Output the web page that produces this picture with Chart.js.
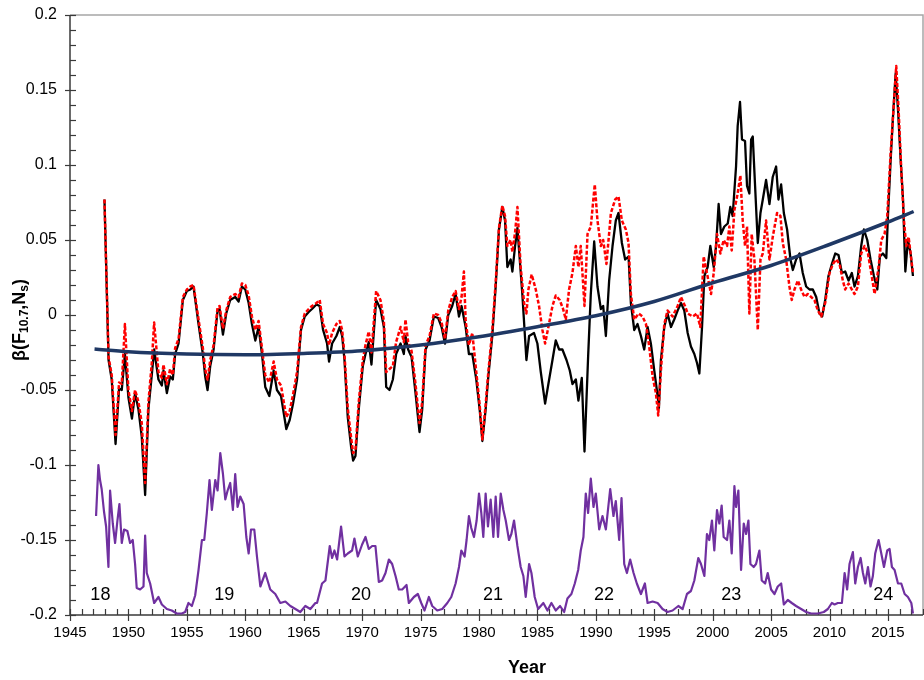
<!DOCTYPE html>
<html>
<head>
<meta charset="utf-8">
<script src="https://cdn.jsdelivr.net/npm/chart.js@4.4.1/dist/chart.umd.min.js"></script>
<style>
    html, body { margin: 0; padding: 0; background: #fff; }
    #wrap { width: 924px; height: 680px; }
</style>
</head>
<body>
<div id="wrap"><canvas id="betaChart" width="924" height="680"></canvas></div>
<script>
// beta(F10.7, Ns) series
const blackYears = [1947.95, 1948.3, 1948.57, 1948.9, 1949.2, 1949.43, 1949.7, 1950.0, 1950.3, 1950.57, 1950.86, 1951.14, 1951.43, 1951.71, 1952.0, 1952.2, 1952.57, 1952.86, 1953.0, 1953.29, 1953.57, 1953.8, 1954.0, 1954.29, 1954.66, 1955.0, 1955.3, 1955.57, 1956.0, 1956.37, 1956.57, 1956.77, 1957.0, 1957.29, 1957.63, 1957.8, 1958.09, 1958.37, 1958.71, 1959.14, 1959.43, 1959.71, 1960.0, 1960.29, 1960.57, 1960.86, 1961.14, 1961.43, 1961.71, 1962.06, 1962.43, 1962.71, 1963.06, 1963.51, 1963.8, 1964.09, 1964.43, 1964.77, 1965.09, 1965.43, 1965.71, 1966.09, 1966.37, 1966.66, 1967.0, 1967.17, 1967.43, 1967.8, 1968.09, 1968.29, 1968.49, 1968.77, 1969.06, 1969.23, 1969.43, 1969.71, 1970.06, 1970.29, 1970.57, 1970.8, 1971.2, 1971.57, 1971.86, 1972.06, 1972.34, 1972.63, 1972.91, 1973.29, 1973.57, 1973.71, 1973.94, 1974.23, 1974.57, 1974.91, 1975.14, 1975.43, 1975.77, 1976.14, 1976.51, 1976.8, 1977.09, 1977.37, 1977.71, 1978.0, 1978.29, 1978.51, 1978.86, 1979.14, 1979.43, 1979.77, 1980.06, 1980.29, 1980.57, 1980.8, 1981.14, 1981.43, 1981.71, 1982.0, 1982.23, 1982.43, 1982.71, 1982.86, 1983.09, 1983.29, 1983.49, 1983.71, 1984.06, 1984.29, 1984.71, 1985.0, 1985.29, 1985.66, 1985.94, 1986.29, 1986.57, 1986.86, 1987.14, 1987.49, 1987.77, 1988.0, 1988.29, 1988.51, 1988.8, 1989.03, 1989.34, 1989.57, 1989.86, 1990.14, 1990.43, 1990.63, 1990.86, 1991.14, 1991.43, 1991.71, 1991.94, 1992.23, 1992.51, 1992.8, 1993.0, 1993.29, 1993.57, 1993.86, 1994.14, 1994.43, 1994.71, 1995.0, 1995.29, 1995.4, 1995.57, 1995.86, 1996.14, 1996.43, 1996.71, 1997.0, 1997.29, 1997.57, 1997.86, 1998.14, 1998.43, 1998.66, 1998.86, 1999.09, 1999.29, 1999.57, 1999.8, 2000.09, 2000.29, 2000.51, 2000.71, 2001.0, 2001.29, 2001.51, 2001.71, 2002.0, 2002.14, 2002.34, 2002.51, 2002.77, 2002.94, 2003.14, 2003.29, 2003.43, 2003.63, 2003.86, 2004.09, 2004.29, 2004.57, 2004.86, 2005.14, 2005.43, 2005.63, 2005.86, 2006.09, 2006.37, 2006.66, 2006.86, 2007.14, 2007.43, 2007.71, 2008.0, 2008.29, 2008.57, 2008.86, 2009.14, 2009.37, 2009.63, 2009.91, 2010.2, 2010.49, 2010.77, 2011.06, 2011.34, 2011.63, 2011.91, 2012.14, 2012.43, 2012.71, 2012.94, 2013.23, 2013.51, 2013.8, 2014.09, 2014.31, 2014.57, 2014.86, 2015.0, 2015.23, 2015.43, 2015.66, 2015.86, 2016.09, 2016.29, 2016.49, 2016.71, 2016.94, 2017.14];
const blackValues = [0.077, -0.030, -0.043, -0.086, -0.049, -0.050, -0.026, -0.055, -0.069, -0.052, -0.063, -0.081, -0.120, -0.063, -0.040, -0.023, -0.043, -0.047, -0.037, -0.052, -0.041, -0.043, -0.026, -0.019, 0.010, 0.016, 0.017, 0.019, -0.006, -0.026, -0.041, -0.050, -0.034, -0.023, 0.003, 0.004, -0.013, 0.001, 0.010, 0.012, 0.009, 0.019, 0.017, 0.008, -0.006, -0.017, -0.008, -0.026, -0.048, -0.054, -0.037, -0.050, -0.054, -0.076, -0.070, -0.059, -0.043, -0.010, -0.001, 0.002, 0.004, 0.007, 0.006, -0.010, -0.019, -0.031, -0.019, -0.014, -0.008, -0.014, -0.030, -0.068, -0.088, -0.097, -0.094, -0.063, -0.034, -0.026, -0.018, -0.033, 0.010, 0.004, -0.008, -0.048, -0.050, -0.043, -0.026, -0.019, -0.026, -0.014, -0.023, -0.028, -0.052, -0.078, -0.063, -0.023, -0.017, -0.001, -0.002, -0.008, -0.019, 0.000, 0.006, 0.014, -0.001, 0.006, -0.008, -0.026, -0.026, -0.043, -0.063, -0.084, -0.063, -0.041, -0.014, 0.019, 0.057, 0.072, 0.063, 0.032, 0.037, 0.029, 0.046, 0.058, 0.037, 0.014, -0.030, -0.014, -0.012, -0.019, -0.038, -0.059, -0.046, -0.030, -0.017, -0.023, -0.023, -0.030, -0.037, -0.046, -0.043, -0.057, -0.042, -0.091, -0.028, 0.014, 0.049, 0.019, 0.004, 0.006, -0.014, 0.023, 0.046, 0.063, 0.068, 0.048, 0.037, 0.039, 0.008, -0.010, -0.006, -0.014, -0.023, -0.008, -0.019, -0.037, -0.054, -0.062, -0.030, -0.008, 0.001, -0.008, -0.003, 0.003, 0.008, 0.003, -0.012, -0.021, -0.026, -0.032, -0.039, -0.008, 0.026, 0.032, 0.046, 0.032, 0.046, 0.074, 0.054, 0.059, 0.061, 0.072, 0.066, 0.099, 0.126, 0.142, 0.117, 0.116, 0.086, 0.081, 0.117, 0.119, 0.086, 0.048, 0.068, 0.077, 0.090, 0.074, 0.092, 0.099, 0.077, 0.087, 0.068, 0.057, 0.037, 0.030, 0.037, 0.041, 0.028, 0.019, 0.017, 0.017, 0.012, 0.001, -0.001, 0.010, 0.026, 0.034, 0.041, 0.040, 0.028, 0.029, 0.023, 0.028, 0.019, 0.026, 0.046, 0.057, 0.050, 0.037, 0.026, 0.017, 0.039, 0.041, 0.038, 0.066, 0.103, 0.132, 0.161, 0.137, 0.103, 0.077, 0.029, 0.050, 0.041, 0.026];

const redYears = [1947.95, 1948.3, 1948.57, 1948.9, 1949.2, 1949.43, 1949.7, 1950.0, 1950.3, 1950.57, 1950.86, 1951.14, 1951.43, 1951.71, 1952.0, 1952.2, 1952.57, 1952.86, 1953.0, 1953.29, 1953.57, 1953.8, 1954.0, 1954.29, 1954.66, 1955.0, 1955.3, 1955.57, 1956.0, 1956.37, 1956.57, 1956.77, 1957.0, 1957.29, 1957.63, 1957.8, 1958.09, 1958.37, 1958.71, 1959.14, 1959.43, 1959.71, 1960.0, 1960.29, 1960.57, 1960.86, 1961.14, 1961.43, 1961.71, 1962.06, 1962.43, 1962.71, 1963.06, 1963.51, 1963.8, 1964.09, 1964.43, 1964.77, 1965.09, 1965.43, 1965.71, 1966.09, 1966.37, 1966.66, 1967.0, 1967.17, 1967.43, 1967.8, 1968.09, 1968.29, 1968.49, 1968.77, 1969.06, 1969.23, 1969.43, 1969.71, 1970.06, 1970.29, 1970.57, 1970.8, 1971.2, 1971.57, 1971.86, 1972.06, 1972.34, 1972.63, 1972.91, 1973.29, 1973.57, 1973.71, 1973.94, 1974.23, 1974.57, 1974.91, 1975.14, 1975.43, 1975.77, 1976.14, 1976.51, 1976.8, 1977.09, 1977.37, 1977.71, 1978.0, 1978.29, 1978.51, 1978.71, 1978.86, 1979.14, 1979.43, 1979.77, 1980.06, 1980.29, 1980.57, 1980.8, 1981.14, 1981.43, 1981.71, 1982.0, 1982.23, 1982.43, 1982.71, 1982.86, 1983.09, 1983.29, 1983.57, 1983.86, 1984.06, 1984.23, 1984.51, 1984.86, 1985.14, 1985.43, 1985.66, 1985.94, 1986.29, 1986.57, 1986.91, 1987.2, 1987.43, 1987.71, 1988.0, 1988.29, 1988.51, 1988.71, 1989.03, 1989.29, 1989.57, 1989.91, 1990.14, 1990.43, 1990.63, 1990.91, 1991.29, 1991.66, 1991.94, 1992.23, 1992.57, 1992.8, 1993.0, 1993.29, 1993.66, 1994.0, 1994.29, 1994.57, 1994.86, 1995.14, 1995.34, 1995.57, 1995.86, 1996.14, 1996.57, 1997.0, 1997.29, 1997.63, 1997.86, 1998.29, 1998.66, 1998.94, 1999.23, 1999.51, 1999.86, 2000.09, 2000.37, 2000.66, 2000.94, 2001.23, 2001.43, 2001.63, 2001.86, 2002.14, 2002.37, 2002.57, 2002.77, 2002.94, 2003.14, 2003.34, 2003.57, 2003.86, 2004.09, 2004.29, 2004.57, 2004.86, 2005.14, 2005.51, 2005.8, 2006.0, 2006.29, 2006.57, 2006.77, 2007.0, 2007.29, 2007.57, 2007.86, 2008.14, 2008.43, 2008.71, 2009.0, 2009.29, 2009.63, 2010.0, 2010.29, 2010.57, 2010.86, 2011.14, 2011.34, 2011.63, 2011.91, 2012.14, 2012.43, 2012.71, 2013.0, 2013.29, 2013.57, 2013.86, 2014.2, 2014.43, 2014.71, 2014.94, 2015.23, 2015.49, 2015.71, 2015.91, 2016.14, 2016.37, 2016.57, 2016.77, 2017.0, 2017.14];
const redValues = [0.077, -0.028, -0.040, -0.080, -0.045, -0.046, -0.006, -0.050, -0.064, -0.050, -0.058, -0.072, -0.112, -0.058, -0.032, -0.005, -0.038, -0.042, -0.033, -0.046, -0.036, -0.040, -0.022, -0.016, 0.012, 0.017, 0.019, 0.020, -0.003, -0.022, -0.036, -0.043, -0.030, -0.020, 0.005, 0.006, -0.009, 0.003, 0.012, 0.014, 0.012, 0.021, 0.020, 0.013, -0.001, -0.010, -0.004, -0.022, -0.040, -0.045, -0.031, -0.043, -0.047, -0.068, -0.064, -0.053, -0.038, -0.008, 0.001, 0.004, 0.006, 0.008, 0.010, -0.006, -0.012, -0.020, -0.012, -0.006, -0.004, -0.010, -0.026, -0.062, -0.082, -0.092, -0.090, -0.058, -0.030, -0.020, -0.011, -0.025, 0.016, 0.010, -0.004, -0.038, -0.036, -0.034, -0.018, -0.008, -0.018, -0.003, -0.018, -0.024, -0.046, -0.072, -0.058, -0.020, -0.014, 0.001, 0.000, -0.005, -0.016, 0.003, 0.012, 0.016, 0.004, 0.012, 0.029, -0.004, -0.020, -0.012, -0.038, -0.060, -0.083, -0.060, -0.038, -0.010, 0.022, 0.058, 0.073, 0.066, 0.046, 0.050, 0.042, 0.055, 0.072, 0.032, 0.008, 0.001, 0.017, 0.027, 0.017, 0.006, -0.010, -0.019, -0.008, 0.006, 0.013, 0.010, 0.004, -0.003, 0.017, 0.028, 0.046, 0.032, 0.046, 0.006, 0.054, 0.059, 0.087, 0.063, 0.046, 0.050, 0.034, 0.068, 0.077, 0.079, 0.063, 0.057, 0.048, 0.014, -0.003, 0.001, -0.001, -0.006, -0.021, -0.041, -0.052, -0.067, -0.037, -0.006, 0.003, -0.001, 0.006, 0.012, 0.006, 0.001, -0.001, 0.001, -0.008, 0.039, 0.028, 0.014, 0.028, 0.054, 0.041, 0.050, 0.046, 0.059, 0.043, 0.070, 0.081, 0.093, 0.063, 0.046, 0.059, 0.001, 0.054, 0.037, -0.010, 0.037, 0.041, 0.063, 0.037, 0.052, 0.068, 0.066, 0.048, 0.037, 0.019, 0.010, 0.017, 0.023, 0.017, 0.012, 0.014, 0.012, 0.010, 0.003, -0.001, 0.008, 0.028, 0.034, 0.037, 0.034, 0.023, 0.017, 0.021, 0.017, 0.014, 0.019, 0.041, 0.046, 0.041, 0.028, 0.014, 0.032, 0.050, 0.054, 0.066, 0.108, 0.139, 0.166, 0.137, 0.097, 0.063, 0.046, 0.052, 0.037, 0.028];

// polynomial trend of the black series
const trendYears = [1947.1, 1950, 1955, 1960, 1965, 1970, 1975, 1980, 1985, 1990, 1995, 2000, 2005, 2010, 2015, 2017.2];
const trendValues = [-0.0227, -0.0245, -0.026, -0.0265, -0.0256, -0.0238, -0.020, -0.0145, -0.0078, -0.0005, 0.009, 0.0215, 0.033, 0.047, 0.062, 0.069];

// sunspot number, scaled into the bottom band
const spotYears = [1947.23, 1947.43, 1947.57, 1947.71, 1947.91, 1948.09, 1948.29, 1948.43, 1948.66, 1948.86, 1949.06, 1949.23, 1949.43, 1949.63, 1949.91, 1950.14, 1950.37, 1950.57, 1950.71, 1951.0, 1951.29, 1951.43, 1951.57, 1951.86, 1952.2, 1952.57, 1952.86, 1953.29, 1953.71, 1954.14, 1954.57, 1954.86, 1955.14, 1955.43, 1955.71, 1956.0, 1956.29, 1956.49, 1956.71, 1956.94, 1957.14, 1957.43, 1957.63, 1957.86, 1958.09, 1958.29, 1958.49, 1958.71, 1958.94, 1959.14, 1959.34, 1959.57, 1959.86, 1960.09, 1960.29, 1960.49, 1960.77, 1961.0, 1961.29, 1961.71, 1962.14, 1962.57, 1963.0, 1963.43, 1963.86, 1964.29, 1964.71, 1965.14, 1965.57, 1966.0, 1966.14, 1966.57, 1966.86, 1967.23, 1967.43, 1967.63, 1967.86, 1968.2, 1968.49, 1968.77, 1969.14, 1969.34, 1969.63, 1970.0, 1970.29, 1970.57, 1970.86, 1971.14, 1971.43, 1971.71, 1972.0, 1972.29, 1972.57, 1972.86, 1973.14, 1973.43, 1973.8, 1974.0, 1974.43, 1974.77, 1975.06, 1975.34, 1975.71, 1976.0, 1976.43, 1976.86, 1977.29, 1977.63, 1978.0, 1978.29, 1978.49, 1978.77, 1978.94, 1979.14, 1979.34, 1979.57, 1979.8, 1980.0, 1980.2, 1980.37, 1980.57, 1980.77, 1981.0, 1981.23, 1981.43, 1981.63, 1981.86, 1982.09, 1982.29, 1982.57, 1982.77, 1983.0, 1983.29, 1983.57, 1983.8, 1984.0, 1984.29, 1984.49, 1984.77, 1985.06, 1985.51, 1985.86, 1986.2, 1986.57, 1986.94, 1987.29, 1987.57, 1987.91, 1988.2, 1988.49, 1988.71, 1988.94, 1989.14, 1989.34, 1989.57, 1989.8, 1990.0, 1990.29, 1990.57, 1990.86, 1991.23, 1991.51, 1991.71, 1992.0, 1992.2, 1992.43, 1992.66, 1992.94, 1993.23, 1993.51, 1993.86, 1994.2, 1994.43, 1994.86, 1995.29, 1995.71, 1996.14, 1996.57, 1997.06, 1997.43, 1997.8, 1998.14, 1998.43, 1998.77, 1999.0, 1999.29, 1999.51, 1999.71, 1999.94, 2000.14, 2000.37, 2000.57, 2000.77, 2000.94, 2001.23, 2001.43, 2001.63, 2001.86, 2002.0, 2002.2, 2002.43, 2002.66, 2002.86, 2003.06, 2003.23, 2003.51, 2003.71, 2004.0, 2004.2, 2004.49, 2004.71, 2005.0, 2005.29, 2005.57, 2005.86, 2006.09, 2006.43, 2006.77, 2007.14, 2007.57, 2008.0, 2008.43, 2009.0, 2009.51, 2009.86, 2010.2, 2010.43, 2010.71, 2011.06, 2011.29, 2011.51, 2011.71, 2012.0, 2012.2, 2012.43, 2012.66, 2012.86, 2013.06, 2013.29, 2013.51, 2013.71, 2013.91, 2014.2, 2014.43, 2014.66, 2014.94, 2015.14, 2015.34, 2015.57, 2015.86, 2016.14, 2016.43, 2016.71, 2017.0, 2017.14];
const spotValues = [-0.134, -0.100, -0.110, -0.116, -0.131, -0.141, -0.168, -0.117, -0.139, -0.152, -0.137, -0.126, -0.152, -0.143, -0.144, -0.152, -0.150, -0.166, -0.182, -0.183, -0.181, -0.147, -0.172, -0.179, -0.192, -0.188, -0.193, -0.196, -0.197, -0.199, -0.199, -0.198, -0.192, -0.194, -0.187, -0.170, -0.150, -0.150, -0.132, -0.110, -0.130, -0.110, -0.117, -0.092, -0.106, -0.123, -0.117, -0.112, -0.130, -0.106, -0.128, -0.121, -0.126, -0.148, -0.159, -0.143, -0.143, -0.161, -0.181, -0.172, -0.183, -0.186, -0.192, -0.191, -0.194, -0.196, -0.198, -0.194, -0.196, -0.192, -0.192, -0.179, -0.177, -0.154, -0.162, -0.157, -0.163, -0.141, -0.161, -0.159, -0.157, -0.149, -0.161, -0.153, -0.148, -0.156, -0.154, -0.154, -0.178, -0.177, -0.172, -0.163, -0.166, -0.174, -0.183, -0.183, -0.180, -0.192, -0.188, -0.186, -0.192, -0.197, -0.188, -0.194, -0.197, -0.196, -0.192, -0.188, -0.179, -0.168, -0.157, -0.161, -0.150, -0.134, -0.142, -0.148, -0.137, -0.119, -0.132, -0.148, -0.119, -0.141, -0.123, -0.148, -0.121, -0.148, -0.119, -0.130, -0.137, -0.150, -0.146, -0.137, -0.154, -0.168, -0.174, -0.188, -0.166, -0.172, -0.188, -0.196, -0.192, -0.197, -0.192, -0.197, -0.194, -0.198, -0.189, -0.186, -0.179, -0.170, -0.157, -0.148, -0.119, -0.132, -0.109, -0.128, -0.119, -0.143, -0.134, -0.143, -0.116, -0.134, -0.124, -0.150, -0.122, -0.166, -0.172, -0.163, -0.172, -0.179, -0.186, -0.179, -0.192, -0.191, -0.192, -0.196, -0.198, -0.197, -0.194, -0.196, -0.186, -0.184, -0.177, -0.162, -0.166, -0.174, -0.146, -0.150, -0.137, -0.157, -0.130, -0.139, -0.127, -0.148, -0.150, -0.137, -0.159, -0.114, -0.128, -0.117, -0.170, -0.139, -0.146, -0.137, -0.166, -0.168, -0.166, -0.157, -0.177, -0.179, -0.172, -0.183, -0.186, -0.181, -0.179, -0.193, -0.190, -0.192, -0.194, -0.196, -0.198, -0.199, -0.199, -0.198, -0.196, -0.192, -0.193, -0.192, -0.192, -0.172, -0.183, -0.166, -0.158, -0.179, -0.168, -0.162, -0.172, -0.179, -0.168, -0.181, -0.174, -0.159, -0.150, -0.159, -0.168, -0.157, -0.156, -0.168, -0.170, -0.179, -0.179, -0.186, -0.188, -0.192, -0.199];

// solar cycle numbers printed along the bottom
const cycleNames = ['18', '19', '20', '21', '22', '23', '24'];
const cycleYears = [1947.6, 1958.2, 1969.9, 1981.2, 1990.7, 2001.6, 2014.6];
const cycleLevel = -0.187;

// axis ticks
const xTickYears = [1945, 1950, 1955, 1960, 1965, 1970, 1975, 1980, 1985, 1990, 1995, 2000, 2005, 2010, 2015];
const yTickValues = [-0.2, -0.15, -0.1, -0.05, 0, 0.05, 0.1, 0.15, 0.2];

const FONT = "'Liberation Sans', Arial, sans-serif";

function toPoints(xs, ys) {
    return xs.map((x, i) => ({ x: x, y: ys[i] }));
}

// Axis frame, tick marks and free text
const decorPlugin = {
    id: 'decor',
    beforeDatasetsDraw(chart) {
        const ctx = chart.ctx;
        const { left, right, top, bottom } = chart.chartArea;
        const xs = chart.scales.x;
        const ys = chart.scales.y;
        ctx.save();
        // light frame top/right
        ctx.strokeStyle = '#a6a6a6';
        ctx.lineWidth = 1.5;
        ctx.beginPath();
        ctx.moveTo(left, top);
        ctx.lineTo(right, top);
        ctx.lineTo(right, bottom);
        ctx.stroke();
        // main axes
        ctx.strokeStyle = '#3a3a3a';
        ctx.lineWidth = 1.5;
        ctx.beginPath();
        ctx.moveTo(left, top);
        ctx.lineTo(left, bottom);
        ctx.lineTo(right, bottom);
        ctx.stroke();
        // y ticks every 0.01
        ctx.lineWidth = 1.2;
        for (let i = -20; i <= 20; i++) {
            const y = Math.round(ys.getPixelForValue(i / 100)) + 0.5;
            ctx.beginPath();
            ctx.moveTo(i % 5 === 0 ? left - 5 : left, y);
            ctx.lineTo(left + 6, y);
            ctx.stroke();
        }
        // x ticks every year
        for (let yr = 1945; yr <= 2018; yr++) {
            const x = Math.round(xs.getPixelForValue(yr)) + 0.5;
            ctx.beginPath();
            ctx.moveTo(x, bottom - 6);
            ctx.lineTo(x, yr % 5 === 0 ? bottom + 6 : bottom);
            ctx.stroke();
        }
        ctx.restore();
    },
    afterDraw(chart) {
        const ctx = chart.ctx;
        const xs = chart.scales.x;
        const ys = chart.scales.y;
        ctx.save();
        ctx.fillStyle = '#000';
        ctx.textAlign = 'center';
        ctx.textBaseline = 'middle';
        ctx.font = '18px ' + FONT;
        cycleNames.forEach((name, i) => {
            ctx.fillText(name, xs.getPixelForValue(cycleYears[i]), ys.getPixelForValue(cycleLevel));
        });

        // x title
        ctx.font = 'bold 18px ' + FONT;
        ctx.fillText('Year', 527, 668);

        // y title with subscripts
        const parts = [
            { t: '\u03B2(F', size: 18, dy: 0 },
            { t: '10.7', size: 12, dy: 5 },
            { t: ',N', size: 18, dy: 0 },
            { t: 's', size: 12, dy: 5 },
            { t: ')', size: 18, dy: 0 }
        ];
        let total = 0;
        parts.forEach(p => {
            ctx.font = 'bold ' + p.size + 'px ' + FONT;
            p.w = ctx.measureText(p.t).width;
            total += p.w;
        });
        ctx.translate(20, 320);
        ctx.rotate(-Math.PI / 2);
        ctx.textAlign = 'left';
        let cx = -total / 2;
        parts.forEach(p => {
            ctx.font = 'bold ' + p.size + 'px ' + FONT;
            ctx.fillText(p.t, cx, p.dy);
            cx += p.w;
        });
        ctx.restore();
    }
};

// drop the label overhang padding so the layout padding alone places the plot
function noOverhang(scale) {
    scale.paddingTop = 0;
    scale.paddingBottom = 0;
    scale.paddingLeft = 0;
    scale.paddingRight = 0;
}

const ctx = document.getElementById('betaChart').getContext('2d');
const betaChart = new Chart(ctx, {
    type: 'line',
    data: {
        datasets: [
            {
                label: 'Trend',
                data: toPoints(trendYears, trendValues),
                borderColor: '#1f3864',
                borderWidth: 3.5,
                cubicInterpolationMode: 'monotone',
                pointRadius: 0,
                order: 0
            },
            {
                label: 'beta (dashed)',
                data: toPoints(redYears, redValues),
                borderColor: '#ff0000',
                borderWidth: 2.5,
                borderDash: [4, 2],
                pointRadius: 0,
                order: 1
            },
            {
                label: 'beta',
                data: toPoints(blackYears, blackValues),
                borderColor: '#000000',
                borderWidth: 2.3,
                pointRadius: 0,
                order: 2
            },
            {
                label: 'Sunspots',
                data: toPoints(spotYears, spotValues),
                borderColor: '#7030a0',
                borderWidth: 2.2,
                pointRadius: 0,
                order: 3
            }
        ]
    },
    options: {
        responsive: false,
        animation: false,
        devicePixelRatio: 1,
        layout: { padding: { top: 15, right: 1, left: 0, bottom: 0 } },
        plugins: {
            legend: { display: false },
            tooltip: { enabled: false }
        },
        elements: { line: { tension: 0, borderJoinStyle: 'round' } },
        scales: {
            x: {
                type: 'linear',
                min: 1945,
                max: 2018,
                grid: { display: false, drawTicks: false },
                border: { display: false },
                afterBuildTicks: scale => { scale.ticks = xTickYears.map(v => ({ value: v })); },
                afterFit: scale => { scale.height = 65; noOverhang(scale); },
                ticks: {
                    padding: 9,
                    color: '#000',
                    font: { family: FONT, size: 15 },
                    maxRotation: 0,
                    callback: v => String(v)
                }
            },
            y: {
                min: -0.2,
                max: 0.2,
                grid: { display: false, drawTicks: false },
                border: { display: false },
                afterBuildTicks: scale => { scale.ticks = yTickValues.map(v => ({ value: v })); },
                afterFit: scale => { scale.width = 70; noOverhang(scale); },
                ticks: {
                    padding: 13,
                    color: '#000',
                    font: { family: FONT, size: 16 },
                    callback: v => String(Math.round(v * 100) / 100)
                }
            }
        }
    },
    plugins: [decorPlugin]
});
</script>
</body>
</html>
